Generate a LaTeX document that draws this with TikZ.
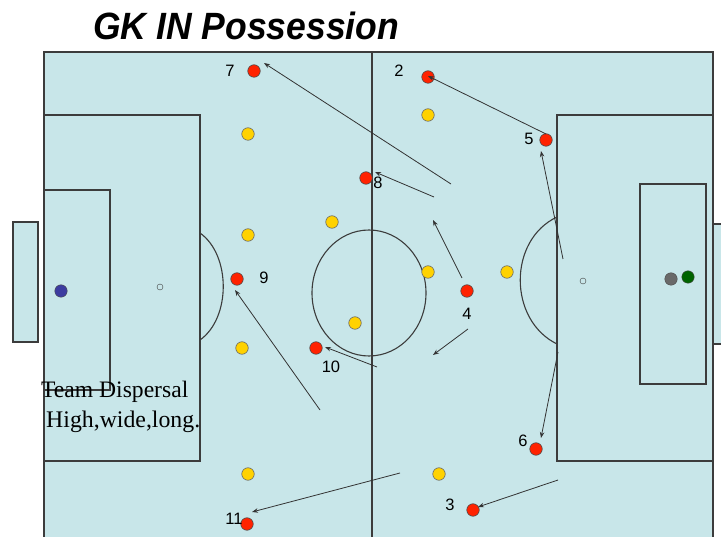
\documentclass[tikz,border=0pt]{standalone}
\usepackage{fontspec}
\setmainfont{Liberation Serif}
\setsansfont{Liberation Sans}
\usetikzlibrary{arrows.meta}
\definecolor{pitch}{RGB}{200,230,233}
\definecolor{pline}{RGB}{60,60,60}
\definecolor{redp}{RGB}{255,34,0}
\definecolor{yelp}{RGB}{255,210,0}
\definecolor{bluep}{RGB}{60,60,160}
\definecolor{greyp}{RGB}{105,105,105}
\definecolor{greenp}{RGB}{0,100,0}
\tikzset{
  fieldline/.style={draw=pline, line width=1.1pt},
  red player/.style={circle, draw=black!70, fill=redp, minimum size=12.5pt, inner sep=0pt, line width=0.6pt},
  yel player/.style={circle, draw=black!60, fill=yelp, minimum size=12.5pt, inner sep=0pt, line width=0.6pt},
  num/.style={font=\sffamily\fontsize{16.5}{16.5}\selectfont, inner sep=0pt},
  run/.style={draw=black!80, line width=0.8pt, -{Stealth[length=6pt,width=4.5pt]}}
}
\begin{document}
\begin{tikzpicture}[x=1pt,y=-1pt]
\useasboundingbox (0,0) rectangle (721,537);
\clip (0,0) rectangle (721,537);
% pitch
\filldraw[fieldline, fill=pitch] (44,52) rectangle (713,560);
\filldraw[fieldline, fill=pitch] (13,222) rectangle (38,342);
\filldraw[fieldline, fill=pitch] (713,224) rectangle (740,344);
\draw[fieldline] (44,115) rectangle (200,461);
\draw[fieldline] (44,190) rectangle (110,390);
\draw[fieldline] (557,115) rectangle (713,461);
\draw[fieldline] (640,184) rectangle (706,384);
\draw[fieldline] (372,52) -- (372,560);
\draw[fieldline] (369,293) ellipse [x radius=57, y radius=63];
\draw[fieldline] (200,233) .. controls (231,255) and (231,318) .. (200,340);
\draw[fieldline] (557,217) .. controls (508,240) and (508,320) .. (557,344);
\node[circle, draw=pline, fill=pitch, minimum size=6pt, inner sep=0pt] (spotL) at (160,287) {};
\node[circle, draw=pline, fill=pitch, minimum size=6pt, inner sep=0pt] (spotR) at (583,281) {};
% keepers / ball
\node[circle, draw=black!70, fill=bluep, minimum size=12.5pt, inner sep=0pt] (gk) at (61,291) {};
\node[circle, draw=black!70, fill=greyp, minimum size=12.5pt, inner sep=0pt] (gkb) at (671,279) {};
\node[circle, draw=black!70, fill=greenp, minimum size=12.5pt, inner sep=0pt] (gkg) at (688,277) {};
% title
\node[anchor=base west, inner sep=0pt, font=\sffamily\bfseries\itshape\fontsize{38}{38}\selectfont] (title) at (93,40) {\scalebox{0.935}[1]{GK IN Possession}};
% text
\node[anchor=base west, inner sep=0pt, font=\rmfamily\fontsize{23.6}{23.6}\selectfont] (t1) at (41,398) {Team Dispersal};
\node[anchor=base west, inner sep=0pt, font=\rmfamily\fontsize{23.8}{23.8}\selectfont] (t2) at (46,428) {High,wide,long.};
% yellow players
\node[yel player] (y1) at (428,115) {};
\node[yel player] (y2) at (248,134) {};
\node[yel player] (y3) at (332,222) {};
\node[yel player] (y4) at (248,235) {};
\node[yel player] (y5) at (428,272) {};
\node[yel player] (y6) at (507,272) {};
\node[yel player] (y7) at (242,348) {};
\node[yel player] (y8) at (355,323) {};
\node[yel player] (y9) at (248,474) {};
\node[yel player] (y10) at (439,474) {};
% red players
\node[red player] (p7) at (254,71) {};
\node[red player] (p2) at (428,77) {};
\node[red player] (p5) at (546,140) {};
\node[red player] (p8) at (366,178) {};
\node[red player] (p9) at (237,279) {};
\node[red player] (p4) at (467,291) {};
\node[red player] (p10) at (316,348) {};
\node[red player] (p6) at (536,449) {};
\node[red player] (p3) at (473,510) {};
\node[red player] (p11) at (247,524) {};
% numbers
\node[num] (n7) at (230,71) {7};
\node[num] (n2) at (399,71) {2};
\node[num] (n5) at (529,139) {5};
\node[num] (n8) at (378,183) {8};
\node[num] (n9) at (264,278) {9};
\node[num] (n4) at (467,314) {4};
\node[num] (n10) at (331,367) {10};
\node[num] (n6) at (523,441) {6};
\node[num] (n3) at (450,505) {3};
\node[num] (n11) at (234,519) {11};
% runs
\coordinate (a1s) at (451,184); \coordinate (a1e) at (264,63);
\coordinate (a2s) at (546,134); \coordinate (a2e) at (428,76);
\coordinate (a3s) at (434,197); \coordinate (a3e) at (375,172);
\coordinate (a4s) at (563,259); \coordinate (a4e) at (541,151);
\coordinate (a5s) at (462,278); \coordinate (a5e) at (433,220);
\coordinate (a6s) at (468,329); \coordinate (a6e) at (433,355);
\coordinate (a7s) at (377,367); \coordinate (a7e) at (325,347);
\coordinate (a8s) at (320,410); \coordinate (a8e) at (235,290);
\coordinate (a9s) at (558,352); \coordinate (a9e) at (541,438);
\coordinate (a10s) at (400,473); \coordinate (a10e) at (252,512);
\coordinate (a11s) at (558,480); \coordinate (a11e) at (478,507);
\foreach \i in {1,...,11} { \draw[run] (a\i s) -- (a\i e); }
\end{tikzpicture}
\end{document}
